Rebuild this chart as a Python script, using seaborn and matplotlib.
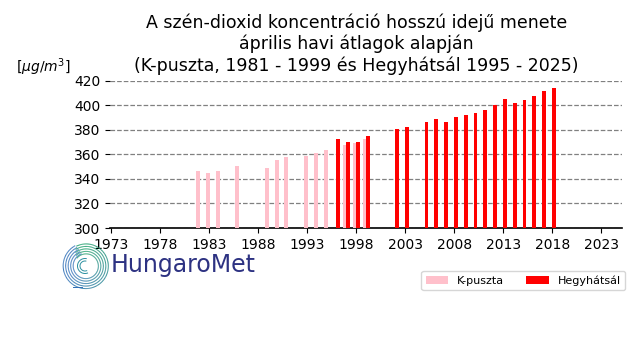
import numpy as np
import pandas as pd
import matplotlib
matplotlib.use("Agg")
import matplotlib.pyplot as plt
from matplotlib.patches import Patch
from matplotlib.collections import LineCollection
from matplotlib.colors import to_rgb
import seaborn as sns

# ---- data ----
kp_years = [1982, 1983, 1984, 1986, 1989, 1990, 1991, 1993, 1994, 1995, 1997, 1998, 1999]
kp_vals = [346.4, 344.8, 346.4, 350.5, 348.9, 355.4, 357.8, 358.7, 361.1, 363.5, 367.6, 369.2, 372.5]

hh_years = [1996, 1997, 1998, 1999, 2002, 2003, 2005, 2006, 2007, 2008, 2009, 2010,
            2011, 2012, 2013, 2014, 2015, 2016, 2017, 2018]
hh_vals = [372.5, 370.1, 370.1, 374.9, 380.4, 382.3, 386.4, 388.8, 386.4, 390.4, 392.1, 393.7,
           396.1, 400.2, 405.1, 401.8, 404.3, 407.5, 411.6, 414.1]

series_names = ["K-puszta", "Hegyhátsál"]
series_colors = ["pink", "red"]
x_ticks = list(range(1973, 2024, 5))
y_ticks = list(range(300, 421, 20))

title_lines = ["A szén-dioxid koncentráció hosszú idejű menete",
               "április havi átlagok alapján",
               "(K-puszta, 1981 - 1999 és Hegyhátsál 1995 - 2025)"]
unit_label = r"[$\mu g/m^3$]"
logo_text = "HungaroMet"

# ---- figure ----
plt.rcParams["font.family"] = ["DejaVu Sans"]
fig = plt.figure(figsize=(6.4, 3.6), dpi=100)
ax = fig.add_axes([110 / 640, 1 - 228 / 360, 512 / 640, 147.3 / 360])

df_kp = pd.DataFrame({"year": np.array(kp_years) - 0.15, "value": kp_vals})
df_hh = pd.DataFrame({"year": np.array(hh_years) + 0.15, "value": hh_vals})

sns.barplot(data=df_kp, x="year", y="value", native_scale=True, orient="v",
            color=series_colors[0], saturation=1, width=0.4, errorbar=None,
            linewidth=0, ax=ax, zorder=3)
sns.barplot(data=df_hh, x="year", y="value", native_scale=True, orient="v",
            color=series_colors[1], saturation=1, width=0.4, errorbar=None,
            linewidth=0, ax=ax, zorder=4)

ax.set_xlim(1972.85, 2025.1)
ax.set_ylim(300, 420)
ax.set_xticks(x_ticks)
ax.set_xticklabels([str(t) for t in x_ticks])
ax.set_yticks(y_ticks)
ax.set_xlabel("")
ax.set_ylabel("")
ax.tick_params(axis="both", labelsize=10, colors="black")
ax.yaxis.grid(True, linestyle="--", color="gray", linewidth=0.9, zorder=0)
ax.xaxis.grid(False)
ax.set_axisbelow(True)
for s in ["top", "right", "left"]:
    ax.spines[s].set_visible(False)
ax.spines["bottom"].set_linewidth(1.2)
ax.spines["bottom"].set_color("black")
ax.set_facecolor("white")

# title and unit
fig.text(0.557, 0.878, "\n".join(title_lines), ha="center", va="center",
         fontsize=12.5, multialignment="center")
fig.text(16 / 640, 1 - 67 / 360, unit_label, ha="left", va="center", fontsize=10)

# legend
handles = [Patch(facecolor=c, edgecolor="none", label=n) for n, c in zip(series_names, series_colors)]
fig.legend(handles=handles, loc="lower right", bbox_to_anchor=(625 / 640, 1 - 290 / 360),
           ncol=2, fontsize=8, borderaxespad=0, frameon=True)

# logo (decorative)
lax = fig.add_axes([61 / 640, 1 - 291 / 360, 50 / 640, 50 / 360])
lax.set_xlim(-25, 25)
lax.set_ylim(-25, 25)
lax.set_aspect("equal")
lax.axis("off")
green = np.array(to_rgb("#1c9e6a"))
blue = np.array(to_rgb("#2f6fb8"))
segs, cols = [], []
radii = [12, 14.5, 17, 19.5, 22]
for i, r in enumerate(radii):
    t0 = np.deg2rad(140 - i * 6)
    t1 = np.deg2rad(-250 + i * 2)
    th = np.linspace(t0, t1, 150)
    rr = r + np.linspace(0, 1.0, th.size)
    px, py = rr * np.cos(th), rr * np.sin(th)
    for k in range(th.size - 1):
        segs.append([(px[k], py[k]), (px[k + 1], py[k + 1])])
        a = np.rad2deg(th[k])
        f = np.clip((90 - a) / 240.0, 0, 1)
        cols.append(green * (1 - f) + blue * f)
lax.add_collection(LineCollection(segs, colors=cols, linewidths=0.7))
for r in [5, 7.5]:
    th = np.linspace(np.deg2rad(80), np.deg2rad(290), 40)
    lax.plot(r * np.cos(th) - 1, r * np.sin(th), color="#2a8fa0", lw=0.7)
lax.plot([-13, -4], [-21, -21], color="#2f6fb8", lw=0.7)

fig.text(111 / 640, 1 - 272 / 360, logo_text, ha="left", va="baseline",
         fontsize=17, color="#2d3282")

fig.savefig("out.png", dpi=100, facecolor="white")
